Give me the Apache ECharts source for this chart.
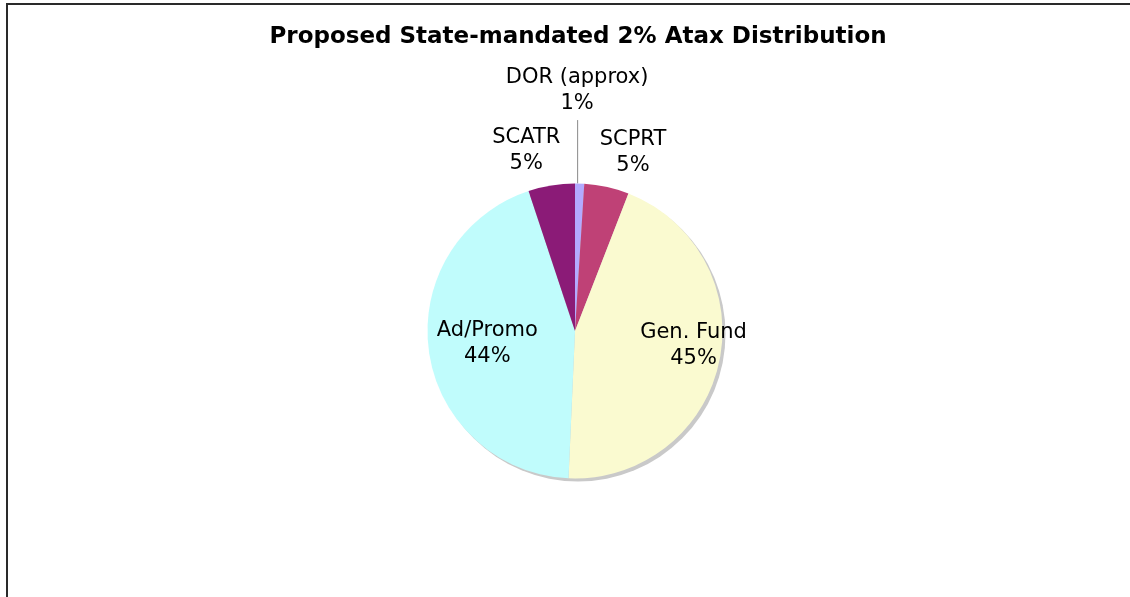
<!DOCTYPE html>
<html>
<head>
<meta charset="utf-8">
<script src="https://cdn.jsdelivr.net/npm/echarts@6/dist/echarts.min.js"></script>
<style>
  html, body { margin: 0; padding: 0; background: #ffffff; }
  #chart { width: 1130px; height: 597px; }
  #frame { position: absolute; left: 6px; top: 3px; width: 2000px; height: 2000px;
           border-left: 2px solid #2a2a2a; border-top: 2px solid #2a2a2a; pointer-events: none; }
</style>
</head>
<body>
<div id="chart"></div>
<div id="frame"></div>
<script>
const titleText = 'Proposed State-mandated 2% Atax Distribution';
const categories = ['DOR (approx)', 'SCPRT', 'Gen. Fund', 'Ad/Promo', 'SCATR'];
const values = [1, 4.9, 44.8, 44.2, 5.1];

// styling (not data)
const colors = ['#b3aaff', '#bf4176', '#fafad0', '#c0fcfc', '#8b1b77'];
const labelRadius = [1.63, 1.27, 0.81, 0.6, 1.27];
const labelAngleShift = [-1.3, 5.6, -4.7, 0, -5.9];
const CX = 575, CY = 331, R = 147.5;

const total = values.reduce((a, b) => a + b, 0);
function midAngle(i) {
  let s = 0;
  for (let k = 0; k < i; k++) s += values[k];
  return (s + values[i] / 2) / total * 360;
}

const chart = echarts.init(document.getElementById('chart'), null, { renderer: 'canvas' });
const option = {
  backgroundColor: '#ffffff',
  animation: false,
  title: {
    text: titleText,
    left: 573,
    textAlign: 'center',
    top: 21,
    textStyle: { fontFamily: 'DejaVu Sans', fontWeight: 'bold', fontSize: 23, color: '#000' }
  },
  series: [
    {
      type: 'pie',
      silent: true,
      center: [CX + 3, CY + 3],
      radius: R,
      z: 1,
      label: { show: false },
      labelLine: { show: false },
      itemStyle: { color: '#c9c9c9', borderWidth: 0 },
      data: [{ value: total, name: 'shadow' }]
    },
    {
      type: 'pie',
      z: 2,
      center: [CX, CY],
      radius: R,
      startAngle: 90,
      clockwise: true,
      avoidLabelOverlap: false,
      percentPrecision: 0,
      itemStyle: { borderWidth: 0 },
      label: {
        show: true,
        position: 'outside',
        formatter: '{b}\n{d}%',
        fontFamily: 'DejaVu Sans',
        fontSize: 21,
        lineHeight: 26,
        color: '#000'
      },
      labelLine: { show: false, lineStyle: { color: '#8a8a8a', width: 1 } },
      labelLayout: function (p) {
        const i = p.dataIndex;
        const a = (midAngle(i) + labelAngleShift[i]) * Math.PI / 180;
        const rr = R * labelRadius[i];
        const res = {
          x: CX + rr * Math.sin(a),
          y: CY - rr * Math.cos(a),
          align: 'center',
          verticalAlign: 'middle'
        };
        if (i === 0) {
          const am = midAngle(0) * Math.PI / 180;
          const x0 = CX + R * Math.sin(am) - 2;
          res.labelLinePoints = [[x0, CY - R], [x0, CY - R * 1.43], [x0, CY - R * 1.43]];
        }
        return res;
      },
      data: categories.map((c, i) => ({
        name: c,
        value: values[i],
        itemStyle: { color: colors[i] },
        labelLine: { show: i === 0 }
      }))
    }
  ]
};
chart.setOption(option);
</script>
</body>
</html>
